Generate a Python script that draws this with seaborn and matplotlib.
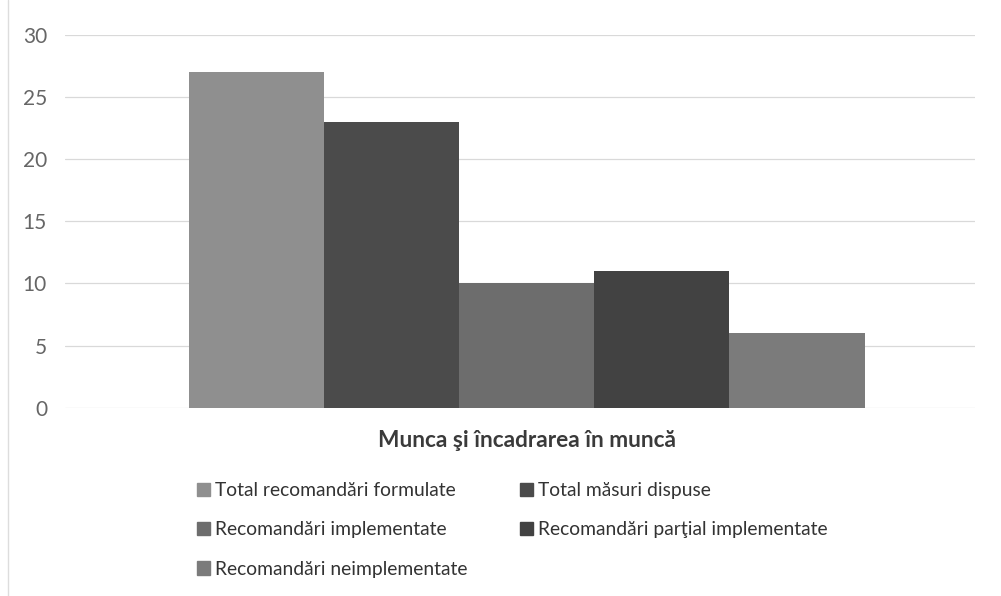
import matplotlib
matplotlib.use("Agg")
import matplotlib.pyplot as plt
import seaborn as sns
import pandas as pd

# Data
category = "Munca şi încadrarea în muncă"
series = [
    "Total recomandări formulate",
    "Total măsuri dispuse",
    "Recomandări implementate",
    "Recomandări parţial implementate",
    "Recomandări neimplementate",
]
values = [27, 23, 10, 11, 6]
colors = ["#8f8f8f", "#4b4b4b", "#6d6d6d", "#424242", "#7b7b7b"]
yticks = [0, 5, 10, 15, 20, 25, 30]

df = pd.DataFrame({"cat": [category] * len(series), "series": series, "value": values})

sns.set_style("white")
plt.rcParams["font.family"] = ["Lato", "DejaVu Sans"]

fig = plt.figure(figsize=(10.01, 5.96), dpi=100)
ax = fig.add_axes([0.065, 0.316, 0.909, 0.6258])

sns.barplot(data=df, x="cat", y="value", hue="series", hue_order=series,
            palette=colors, width=0.743, gap=0, edgecolor="none",
            saturation=1, ax=ax, legend=False)

ax.set_ylim(0, 30)
ax.set_xlim(-0.5072, 0.4928)
ax.set_yticks(yticks)
ax.set_yticklabels([str(t) for t in yticks], fontsize=15, color="#666666")
ax.tick_params(axis="y", length=0, pad=13)
ax.tick_params(axis="x", length=0, pad=16)
ax.set_xticks([0])
ax.set_xticklabels([category], fontsize=16.3, fontweight="bold", color="#3a3a3a")
ax.set_xlabel("")
ax.set_ylabel("")
ax.yaxis.grid(True, color="#d9d9d9", linewidth=0.9)
ax.set_axisbelow(True)
for s in ax.spines.values():
    s.set_visible(False)

# Legend (row-major ordering in two columns)
handles = [plt.Rectangle((0, 0), 1, 1, color=c) for c in colors]
order = [0, 2, 4, 1, 3]
fig.legend([handles[i] for i in order], [series[i] for i in order],
           loc="upper left", bbox_to_anchor=(0.179, 0.22), ncol=2,
           frameon=False, fontsize=13.9, handlelength=0.7, handleheight=0.7,
           handletextpad=0.26, columnspacing=2.7, labelspacing=1.15,
           labelcolor="#333333")

# faint chart border on the left
fig.add_artist(plt.Line2D([0.008, 0.008], [0.0, 1.0], color="#dddddd",
                          linewidth=1, transform=fig.transFigure))

fig.savefig("out.png", dpi=100)
